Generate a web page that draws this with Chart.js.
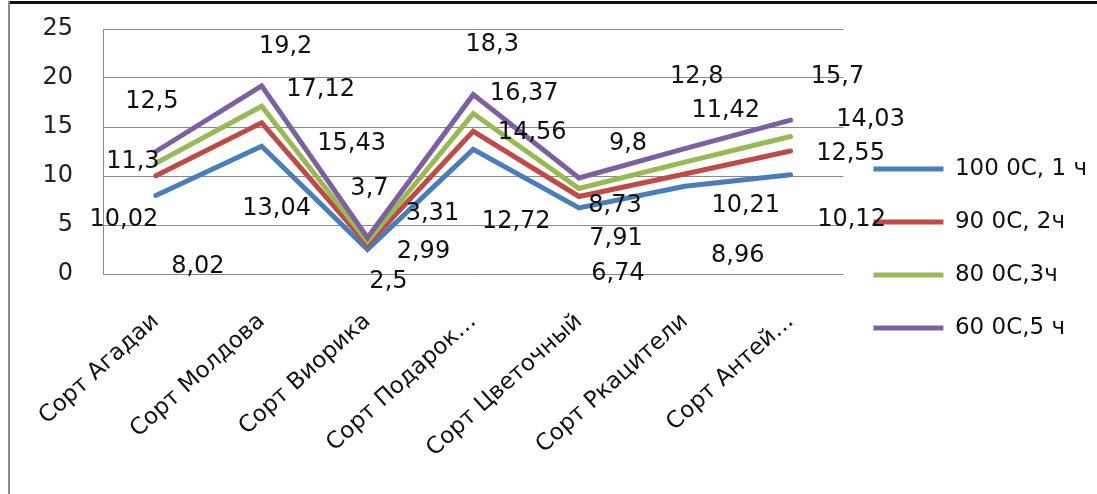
<!DOCTYPE html>
<html>
<head>
<meta charset="utf-8">
<script src="https://cdn.jsdelivr.net/npm/chart.js@4"></script>
<style>
  html, body { margin: 0; padding: 0; background: #fff; }
  #wrap { position: relative; width: 1097px; height: 494px; overflow: hidden; }
  #frameTop { position: absolute; left: 8px; top: 1px; right: 0; height: 3px; background: #111; }
  #frameLeft { position: absolute; left: 8px; top: 1px; width: 2px; bottom: 0; background: #8c8c8c; }
  canvas { position: absolute; left: 0; top: 0; }
</style>
</head>
<body>
<div id="wrap">
  <canvas id="chart" width="1097" height="494"></canvas>
  <div id="frameTop"></div>
  <div id="frameLeft"></div>
</div>
<script>
// categories and series values
const categories = ['Сорт Агадаи', 'Сорт Молдова', 'Сорт Виорика', 'Сорт Подарок…', 'Сорт Цветочный', 'Сорт Ркацители', 'Сорт Антей…'];
const seriesNames = ['100 0С, 1 ч', '90 0С, 2ч', '80 0С,3ч', '60 0С,5 ч'];
const t100 = [8.02, 13.04, 2.5, 12.72, 6.74, 8.96, 10.12];
const t90 = [10.02, 15.43, 2.99, 14.56, 7.91, 10.21, 12.55];
const t80 = [11.3, 17.12, 3.31, 16.37, 8.73, 11.42, 14.03];
const t60 = [12.5, 19.2, 3.7, 18.3, 9.8, 12.8, 15.7];
const yTicks = [0, 5, 10, 15, 20, 25];

const colors = ['#4a7ebb', '#be4b48', '#98b954', '#7d60a0'];
// where the value labels sit relative to their point (px), as in the original
const labelShift = [
  [[42, 71], [15, 63], [21, 32], [43, 72], [39, 66], [53, 70], [61, 45]],
  [[-32, 44], [90, 21], [56, 7], [59, 1], [37, 42], [61, 32], [60, 3]],
  [[-23, -1], [59, -16], [65, -28], [51, -20], [36, 17], [41, -51], [80, -17]],
  [[-4, -50], [24, -39], [2, -49], [19, -50], [49, -34], [12, -72], [47, -43]]
];

const FONT = 'DejaVu Sans';

const valueLabels = {
  id: 'valueLabels',
  afterDatasetsDraw(chart) {
    const ctx = chart.ctx;
    ctx.save();
    ctx.font = '24px "' + FONT + '"';
    ctx.fillStyle = '#111';
    ctx.textAlign = 'center';
    ctx.textBaseline = 'middle';
    chart.data.datasets.forEach((ds, i) => {
      const meta = chart.getDatasetMeta(i);
      meta.data.forEach((pt, j) => {
        const s = labelShift[i][j];
        ctx.fillText(String(ds.data[j]).replace('.', ','), pt.x + s[0], pt.y + s[1]);
      });
    });
    ctx.restore();
  }
};

const allSeries = [t100, t90, t80, t60];
const datasets = allSeries.map((vals, i) => ({
  label: seriesNames[i],
  data: vals,
  borderColor: colors[i],
  backgroundColor: colors[i],
  borderWidth: 5,
  borderCapStyle: 'round',
  pointRadius: 0,
  tension: 0,
  order: allSeries.length - i
}));

new Chart(document.getElementById('chart'), {
  type: 'line',
  data: { labels: categories, datasets: datasets },
  plugins: [valueLabels],
  options: {
    responsive: false,
    animation: false,
    layout: { padding: { left: 43, top: 29, right: 0, bottom: 26 } },
    plugins: {
      tooltip: { enabled: false },
      legend: {
        position: 'right',
        labels: {
          font: { family: FONT, size: 23 },
          color: '#111',
          boxWidth: 70,
          boxHeight: 5,
          padding: 30,
          sort: (a, b) => a.datasetIndex - b.datasetIndex,
          generateLabels(chart) {
            const items = Chart.defaults.plugins.legend.labels.generateLabels(chart);
            items.forEach(it => { it.lineWidth = 0; it.fillStyle = colors[it.datasetIndex]; });
            return items;
          }
        }
      }
    },
    scales: {
      x: {
        offset: true,
        grid: { display: false, drawTicks: false },
        border: { display: false },
        ticks: {
          font: { family: FONT, size: 23 },
          color: '#111',
          minRotation: 42,
          maxRotation: 42,
          padding: 34,
          autoSkip: false
        },
        afterFit(s) {
          s.height = 194;
          s.paddingLeft = 0;
          s.paddingRight = 0;
        }
      },
      y: {
        min: 0,
        max: 25,
        afterBuildTicks(s) { s.ticks = yTicks.map(v => ({ value: v })); },
        grid: { color: '#8a8a8a', lineWidth: 1, drawTicks: false },
        border: { display: true, color: '#8a8a8a', width: 1 },
        ticks: {
          font: { family: FONT, size: 24 },
          color: '#222',
          padding: 30
        },
        afterFit(s) {
          s.width = 60;
          s.paddingTop = 0;
          s.paddingBottom = 0;
        }
      }
    }
  }
});
</script>
</body>
</html>
